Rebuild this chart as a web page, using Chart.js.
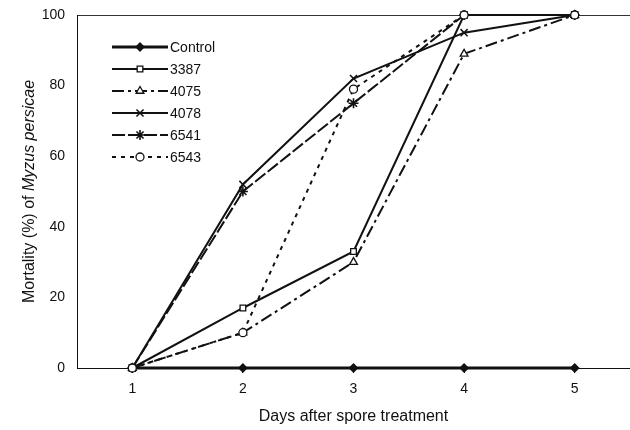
<!DOCTYPE html>
<html>
<head>
<meta charset="utf-8">
<script src="https://cdn.jsdelivr.net/npm/chart.js@4"></script>
<style>
  html, body { margin: 0; padding: 0; background: #fff; }
  #wrap { width: 630px; height: 430px; }
</style>
</head>
<body>
<div id="wrap"><canvas id="chart" width="630" height="430"></canvas></div>
<script>
// Data
const days = ['1', '2', '3', '4', '5'];
const control = [0, 0, 0, 0, 0];
const s3387 = [0, 17, 33, 100, 100];
const s4075 = [0, 10, 30, 89, 100];
const s4078 = [0, 52, 82, 95, 100];
const s6541 = [0, 50, 75, 100, 100];
const s6543 = [0, 10, 79, 100, 100];
const yTicks = [0, 20, 40, 60, 80, 100];

const FONT = "'Liberation Sans', Arial, sans-serif";

function series(label, data, opts) {
  return Object.assign({
    label, data,
    borderColor: '#111',
    backgroundColor: '#fff',
    pointBorderColor: '#111',
    pointBackgroundColor: '#fff',
    borderWidth: 2,
    pointRadius: 4,
    pointBorderWidth: 1.3,
    tension: 0,
    fill: false,
    clip: false
  }, opts);
}

const datasets = [
  series('6543', s6543, { borderDash: [4, 5], pointStyle: 'circle' }),
  series('6541', s6541, { borderDash: [13, 3], pointStyle: 'star', pointRadius: 5, pointBorderWidth: 1.6 }),
  series('4078', s4078, { pointStyle: 'crossRot', pointRadius: 5, pointBorderWidth: 1.5 }),
  series('4075', s4075, { borderDash: [12, 4, 3, 4], pointStyle: 'triangle', pointRadius: 4.5 }),
  series('3387', s3387, { pointStyle: 'rect', pointRadius: 4 }),
  series('Control', control, { borderWidth: 3, pointStyle: 'rectRot', pointBackgroundColor: '#111', pointRadius: 4 })
];

// legend with line samples, drawn in the original order
const legendOrder = ['Control', '3387', '4075', '4078', '6541', '6543'];
const lineLegend = {
  id: 'lineLegend',
  afterDatasetsDraw(chart) {
    const ctx = chart.ctx;
    const a = chart.chartArea;
    ctx.save();
    legendOrder.forEach((name, i) => {
      const ds = chart.data.datasets.find(d => d.label === name);
      const y = a.top + 32 + i * 22;
      const x0 = a.left + 35, x1 = a.left + 91, xm = (x0 + x1) / 2;
      ctx.strokeStyle = ds.borderColor;
      ctx.lineWidth = ds.borderWidth;
      ctx.setLineDash(ds.borderDash || []);
      ctx.beginPath();
      ctx.moveTo(x0, y);
      ctx.lineTo(x1, y);
      ctx.stroke();
      ctx.setLineDash([]);
      ctx.fillStyle = ds.pointBackgroundColor;
      ctx.strokeStyle = ds.pointBorderColor;
      ctx.lineWidth = ds.pointBorderWidth;
      Chart.helpers.drawPoint(ctx, { pointStyle: ds.pointStyle, radius: ds.pointRadius, borderWidth: ds.pointBorderWidth, rotation: 0 }, xm, y);
      ctx.fillStyle = '#111';
      ctx.font = '14px ' + FONT;
      ctx.textBaseline = 'middle';
      ctx.textAlign = 'left';
      ctx.fillText(name, x1 + 2, y + 1);
    });
    ctx.restore();
  }
};

// y-axis title with italic species name
const yTitle = {
  id: 'yTitle',
  afterDraw(chart) {
    const ctx = chart.ctx;
    const a = chart.chartArea;
    const plain = 'Mortality (%) of ';
    const ital = 'Myzus persicae';
    ctx.save();
    ctx.translate(30, (a.top + a.bottom) / 2);
    ctx.rotate(-Math.PI / 2);
    ctx.fillStyle = '#111';
    ctx.textBaseline = 'middle';
    ctx.font = '16px ' + FONT;
    const w1 = ctx.measureText(plain).width;
    ctx.font = 'italic 16px ' + FONT;
    const w2 = ctx.measureText(ital).width;
    let x = -(w1 + w2) / 2;
    ctx.font = '16px ' + FONT;
    ctx.textAlign = 'left';
    ctx.fillText(plain, x, 0);
    ctx.font = 'italic 16px ' + FONT;
    ctx.fillText(ital, x + w1, 0);
    ctx.restore();
  }
};

new Chart(document.getElementById('chart'), {
  type: 'line',
  data: { labels: days, datasets },
  plugins: [lineLegend, yTitle],
  options: {
    responsive: false,
    animation: false,
    layout: { autoPadding: false, padding: { top: 15, right: 0, left: 0, bottom: 0 } },
    plugins: { legend: { display: false }, tooltip: { enabled: false } },
    scales: {
      x: {
        type: 'category',
        offset: true,
        grid: { offset: false, drawOnChartArea: false, drawTicks: true, tickLength: 5, color: '#111' },
        border: { display: true, color: '#111', width: 1 },
        ticks: { color: '#111', font: { family: FONT, size: 14 }, padding: 8 },
        title: { display: true, text: 'Days after spore treatment', color: '#111', font: { family: FONT, size: 16 }, padding: { top: 0 } },
        afterFit(s) { s.height = 62; }
      },
      y: {
        min: 0, max: 100,
        afterBuildTicks(s) { s.ticks = yTicks.map(v => ({ value: v })); },
        grid: {
          drawTicks: false,
          color: c => (c.tick && c.tick.value === 100 ? '#333' : 'rgba(0,0,0,0)')
        },
        border: { display: true, color: '#111', width: 1 },
        ticks: { color: '#111', font: { family: FONT, size: 14 }, padding: 12 },
        afterFit(s) { s.width = 77; s.paddingTop = 0; s.paddingBottom = 0; }
      }
    }
  }
});
</script>
</body>
</html>
